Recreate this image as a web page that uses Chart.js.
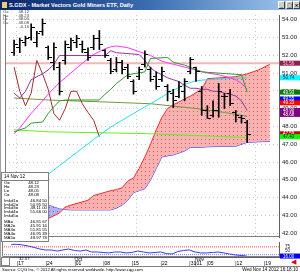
<!DOCTYPE html>
<html>
<head>
<meta charset="utf-8">
<title>S.GDX - Market Vectors Gold Miners ETF, Daily</title>
<script src="https://cdn.jsdelivr.net/npm/chart.js@4.4.1/dist/chart.umd.min.js"></script>
<style>
  html, body { margin: 0; padding: 0; }
  body { width: 300px; height: 274px; position: relative; overflow: hidden; background: #fff; font-family: "Liberation Sans", Arial, sans-serif; }
  .abs { position: absolute; }
  #titlebar { left: 0; top: 0; width: 300px; height: 10px; background: linear-gradient(to right, #0a246a 0%, #3b6fb0 50%, #a6caf0 100%); }
  #titlebar .txt { left: 9px; top: 0; line-height: 10px; font-size: 5.6px; font-weight: bold; color: #fff; white-space: nowrap; }
  #titlebar .ico { left: 2px; top: 2px; width: 5px; height: 6px; background: #e8d070; }
  .btn { top: 1px; width: 5px; height: 6px; background: #d4d0c8; border-top: 1px solid #fff; border-left: 1px solid #fff;
         border-right: 1px solid #404040; border-bottom: 1px solid #404040; font: bold 5px/6px "DejaVu Sans"; text-align: center; color: #000; }
  canvas { position: absolute; left: 0; }
  #price { top: 10px; }
  #osc { top: 241px; }
  #quote { left: 3px; top: 10px; font-size: 4.2px; line-height: 3.7px; color: #404040; }
  #quote div { display: flex; width: 26px; justify-content: space-between; }
  #info { left: 1px; top: 172px; width: 46px; height: 68px; background: #fff; border: 1px solid #808080; font-size: 4.3px; line-height: 3.9px; color: #000; }
  #info .hdr { height: 7px; line-height: 7px; border-bottom: 1px solid #808080; padding-left: 2px; font-size: 4.6px; }
  #info .r { display: flex; justify-content: space-between; padding: 0 1px 0 2px; }
  #info .s { padding-right: 9px; }
  #info .g { margin-top: 2px; }
  #src { left: 2px; top: 266px; font-size: 4.2px; line-height: 7px; color: #000; white-space: nowrap; }
  #stamp { right: 2px; top: 266px; font-size: 4.6px; line-height: 8px; color: #000; white-space: nowrap; }
</style>
</head>
<body>
<div id="titlebar" class="abs">
  <div class="abs ico"></div>
  <div class="abs txt">S.GDX - Market Vectors Gold Miners ETF, Daily</div>
  <div class="abs btn" style="left:278px">_</div>
  <div class="abs btn" style="left:286px">□</div>
  <div class="abs btn" style="left:293px">×</div>
</div>
<div class="abs" style="left:0;top:10px;width:1px;height:256px;background:#a0a0a0"></div>
<canvas id="price" width="300" height="232"></canvas>
<canvas id="osc" width="300" height="25"></canvas>
<div id="quote" class="abs">
  <div><span>O=</span><span>48.12</span></div>
  <div><span>H=</span><span>48.23</span></div>
  <div><span>L=</span><span>48.05</span></div>
  <div><span>C=</span><span>48.08</span></div>
  <div><span></span><span>-0.16</span></div>
</div>
<div id="info" class="abs">
  <div class="hdr">14 Nov 12</div>
  <div class="r s"><span>O=</span><span>48.12</span></div>
  <div class="r s"><span>H=</span><span>48.23</span></div>
  <div class="r s"><span>L=</span><span>48.05</span></div>
  <div class="r s"><span>C=</span><span>48.08</span></div>
  <div class="r g"><span>Imkd1=</span><span>46.84 50</span></div>
  <div class="r"><span>Imkd2=</span><span>50.95 50</span></div>
  <div class="r"><span>Imkd3=</span><span>48.11 00</span></div>
  <div class="r"><span>Imkd4=</span><span>51.66 00</span></div>
  <div class="r"><span>Imkd5=</span><span></span></div>
  <div class="r g"><span>MA=</span><span>46.81 67</span></div>
  <div class="r"><span>MA2=</span><span>45.91 16</span></div>
  <div class="r"><span>MA3=</span><span>51.81 55</span></div>
  <div class="r"><span>MA4=</span><span>46.95 39</span></div>
  <div class="r"><span>MA5=</span><span>49.97 78</span></div>
</div>
<div class="abs" style="left:1px;top:257px;width:7px;height:7px;border:1px solid #808080"></div>
<div class="abs" style="left:19px;top:256px;font-size:4.2px;line-height:6px">32.57</div>
<div class="abs" style="left:291px;top:258px;color:#e00000;font:7px/8px 'DejaVu Sans'">◀</div>
<div class="abs" style="left:0;top:266px;width:300px;height:1px;background:#808080"></div>
<div id="src" class="abs">Source: CQG Inc. © 2012 All rights reserved worldwide. http://www.cqg.com</div>
<div id="stamp" class="abs">Wed Nov 14 2012 16:18:10</div>

<script>
// trading-day index: 0 = Mon 17 Sep 2012, 40 = Wed 14 Nov 2012 (29-30 Oct closed)
const barIdx = [-1,0,1,2,3,4,5,6,7,8,9,10,11,12,13,14,15,16,17,18,19,20,21,22,23,24,25,26,27,28,29,30,31,32,33,34,35,36,37,38,39,40];
const barHigh = [52.86,52.97,53.08,53.78,53.35,54.05,52.53,52.70,51.61,52.81,52.97,53.13,52.81,52.43,53.13,53.40,52.32,51.83,51.88,51.72,51.50,50.63,51.34,52.26,51.34,51.07,51.34,50.36,50.09,50.53,50.69,51.88,51.34,50.25,49.17,49.44,50.42,49.87,50.09,48.90,48.63,48.35];
const barLow = [51.99,52.15,52.53,52.86,52.48,53.13,51.77,51.18,49.77,51.50,52.26,52.43,52.15,51.72,52.32,52.32,51.88,50.96,51.07,50.96,50.69,49.82,50.63,51.34,50.53,50.09,50.53,49.44,49.06,49.60,49.44,50.96,50.53,48.63,48.46,48.52,48.52,49.01,49.17,48.25,48.19,47.11];
const barOpen = [52.15,52.43,52.70,53.02,52.70,53.35,52.43,51.61,51.34,51.72,52.43,52.70,52.59,52.15,52.43,52.97,52.26,51.72,51.18,51.61,51.34,50.53,50.80,51.50,51.18,50.80,50.63,50.25,49.87,49.71,49.98,51.07,51.34,49.98,48.90,48.63,48.90,49.71,49.87,48.79,48.52,48.25];
const barClose = [52.59,52.81,52.97,53.57,53.24,53.78,51.88,52.43,49.98,52.59,52.81,52.97,52.32,51.88,52.97,52.59,51.99,51.07,51.61,51.18,50.80,49.98,51.18,52.05,50.63,50.25,51.07,49.98,49.44,50.25,50.53,51.77,51.07,48.90,48.46,48.90,49.98,49.71,49.28,48.63,48.46,47.54];

const laggingIdx = [-1,0,1,2,3,4,5,6,7,8,9,10,11,12,13,14];
const laggingSpan = [51.34,49.98,49.17,49.87,51.72,50.96,50.09,48.73,48.35,49.01,49.98,49.98,49.28,48.79,48.35,47.43];

const tenkanIdx = [-1,0,1,2,3,4,5,6,7,15,16,17,21,22,23,24,25,26,27,28,29,30,31,32,33,34,35,36,37,38,39,40];
const tenkan = [49.87,49.60,49.98,50.63,50.80,50.96,51.18,51.50,51.99,51.99,52.26,52.15,52.05,51.72,51.29,51.07,50.91,50.74,50.63,50.53,50.31,50.15,50.15,50.09,50.09,49.98,49.98,49.87,49.82,49.71,49.44,48.90];

const kijunIdx = [-1,1,2,4,5,6,7,8,14,15,16,17,19,22,23,26,27,29,32,39,40];
const kijun = [47.70,47.92,48.19,48.25,48.73,49.11,49.44,49.49,49.49,49.82,50.09,50.42,50.91,51.07,51.83,51.88,51.61,51.45,51.07,50.91,49.93];

const maPinkIdx = [-1,0,2,4,5,7,9,11,13,15,16,17,19,21,23,25,27,29,31,33,35,37,38,39,40];
const maPink = [47.59,47.92,48.73,49.44,49.82,50.47,51.01,51.56,52.05,52.37,52.48,52.53,52.43,52.21,51.99,51.67,51.50,51.34,51.18,51.01,50.91,50.74,50.63,50.42,50.09];

const maCyanIdx = [-1,2,5,7,9,11,13,16,18,20,22,23,25,27,29,31,33,36,40];
const maCyan = [44.01,44.61,45.31,45.80,46.29,46.78,47.27,47.97,48.35,48.73,49.11,49.28,49.66,50.04,50.36,50.58,50.63,50.69,50.74];

const maOliveIdx = [-1,5,14,23,31,36,40];
const maOlive = [49.60,49.49,49.39,49.28,49.01,48.79,48.57];

const maLimeIdx = [-1,5,14,23,31,40];
const maLime = [47.81,47.70,47.65,47.59,47.49,47.38];

const cloudIdx = [5,7,8,9,12,13,16,17,18,19,20,21,22,23,24,25,26,27,29,30,32,33,38,40,42,44];
const spanA = [42.82,43.14,43.47,43.58,43.85,44.12,44.39,44.45,44.55,44.93,45.10,45.64,46.29,47.00,47.81,48.52,49.01,49.22,49.55,49.71,50.09,50.69,50.80,50.96,51.18,51.50];
const spanB = [43.58,43.36,43.33,43.31,43.31,43.31,43.31,43.41,43.58,43.85,44.28,44.39,44.50,44.99,45.64,46.29,46.35,46.40,46.62,46.83,46.83,46.86,46.89,47.11,47.14,47.16];

const levelLine = 51.56;
const priceTicks = [42,43,44,45,46,47,48,49,50,51,52,53,54];
const tagValues = [51.56,50.74,49.93,49.55,49.33,48.90,48.68,47.59,47.43];

const oscIdx = barIdx;
const oscValues = [91,91,87,80,71,61,55,55,48,55,61,52,48,55,42,42,39,36,42,42,36,39,48,42,36,39,42,32,29,45,52,55,42,36,36,39,42,36,29,23,20,16];
const oscLevels = [75,25];
const oscTicks = [50,75];

const weekTickIdx = [0,5,10,15,20,25,30,31,33,38,43];
const dayLabels = ['17','24','01','08','15','22','31','01','05','12','19'];
const monthTickIdx = [10,31];
const monthNames = ['Oct','Nov'];

// axis ranges
const xMin = -2.6, xMax = 45.6;
const yMin = 41.785, yMax = 54.27;
const oscMin = 10, oscMax = 106;

const tagColors = [
  ['#8b2252','#ffc0cb'], ['#00ffff','#000080'], ['#008000','#ffffff'], ['#0000ff','#ffffff'], ['#ff0000','#ffffff'],
  ['#800080','#ffffff'], ['#800080','#ffffff'], ['#cc0000','#ffffff'], ['#00ff00','#000000']
];

function pts(xs, ys) {
  return xs.map((x, i) => ({ x: x, y: ys[i] }));
}

function tickImage(side) {
  const c = document.createElement('canvas');
  c.width = 7; c.height = 1;
  const g = c.getContext('2d');
  g.fillStyle = '#000';
  g.fillRect(side === 'left' ? 0 : 4, 0, 3, 1);
  return c;
}

function dotted(bg, dot) {
  const c = document.createElement('canvas');
  c.width = 4; c.height = 4;
  const g = c.getContext('2d');
  g.fillStyle = bg; g.fillRect(0, 0, 4, 4);
  g.fillStyle = dot; g.fillRect(1, 1, 1, 1);
  return g.createPattern(c, 'repeat');
}

function line(xs, ys, color, order, extra) {
  return Object.assign({
    type: 'line', data: pts(xs, ys), borderColor: color, borderWidth: 1,
    pointRadius: 0, fill: false, tension: 0, order: order
  }, extra || {});
}

const tagPlugin = {
  id: 'tags',
  afterDraw(chart, args, opts) {
    const ctx = chart.ctx, ys = chart.scales.y, a = chart.chartArea;
    ctx.save();
    ctx.font = '4.5px "Liberation Sans"';
    ctx.textBaseline = 'middle';
    (opts.items || []).forEach(t => {
      const py = ys.getPixelForValue(t.value);
      ctx.fillStyle = t.bg;
      ctx.fillRect(a.right + 1, py - 2.5, 20, 5);
      ctx.fillStyle = t.fg;
      ctx.fillText(t.value.toFixed(2), a.right + 4, py + 0.3);
    });
    ctx.restore();
  }
};

const framePlugin = {
  id: 'frame',
  afterDatasetsDraw(chart) {
    const ctx = chart.ctx, a = chart.chartArea;
    ctx.save();
    ctx.strokeStyle = '#808080';
    ctx.lineWidth = 1;
    ctx.beginPath();
    ctx.moveTo(a.left + 0.5, a.top);
    ctx.lineTo(a.left + 0.5, a.bottom - 0.5);
    ctx.lineTo(a.right, a.bottom - 0.5);
    ctx.stroke();
    ctx.restore();
  }
};

const pinkDots = dotted('#f9b2b2', '#e25a5a');
const blueDots = dotted('#b0b0f4', '#6a6ad8');

new Chart(document.getElementById('price'), {
  type: 'line',
  data: {
    datasets: [
      { type: 'bar', data: barIdx.map((x, i) => ({ x: x, y: [barLow[i], barHigh[i]] })),
        backgroundColor: '#000', borderWidth: 0, barThickness: 1, order: 0 },
      { type: 'line', data: pts(barIdx, barOpen), showLine: false, pointStyle: tickImage('left'), pointRadius: 3, order: 0 },
      { type: 'line', data: pts(barIdx, barClose), showLine: false, pointStyle: tickImage('right'), pointRadius: 3, order: 0 },
      line(kijunIdx, kijun, '#2e9a2e', 2),
      line(tenkanIdx, tenkan, '#993399', 2),
      line(maPinkIdx, maPink, '#ff33ff', 3),
      line(maCyanIdx, maCyan, '#22e0f0', 3),
      line(laggingIdx, laggingSpan, '#a03030', 3),
      line(maOliveIdx, maOlive, '#6f9a3a', 4),
      line(maLimeIdx, maLime, '#66ee22', 4),
      line([xMin, xMax], [levelLine, levelLine], '#f2b8b8', 5, { borderWidth: 2 }),
      line(cloudIdx, spanA, '#ff2a2a', 8, { fill: { target: '+1', above: pinkDots, below: blueDots } }),
      line(cloudIdx, spanB, '#3a3aff', 8)
    ]
  },
  options: {
    responsive: false, animation: false, events: [],
    layout: { padding: { left: 2, right: 0, top: 1, bottom: 1 } },
    plugins: {
      legend: { display: false }, tooltip: { enabled: false },
      tags: { items: tagValues.map((v, i) => ({ value: v, bg: tagColors[i][0], fg: tagColors[i][1] })) }
    },
    scales: {
      x: {
        type: 'linear', min: xMin, max: xMax, offset: false,
        afterBuildTicks: s => { s.ticks = monthTickIdx.map(v => ({ value: v })); },
        ticks: { display: false },
        grid: { color: '#c8c8c8', drawTicks: false },
        border: { display: false, dash: [1, 3] },
        afterFit: s => { s.height = 0; s.paddingLeft = 0; s.paddingRight = 0; }
      },
      y: {
        type: 'linear', position: 'right', min: yMin, max: yMax,
        afterBuildTicks: s => { s.ticks = priceTicks.map(v => ({ value: v })); },
        ticks: { color: '#202020', font: { size: 6, family: 'Liberation Sans' }, padding: 3, callback: v => v.toFixed(2) },
        grid: { color: '#c8c8c8', drawTicks: false },
        border: { display: true, color: '#606060', dash: [1, 3] },
        afterFit: s => { s.width = 21; s.paddingTop = 0; s.paddingBottom = 0; }
      }
    }
  },
  plugins: [framePlugin, tagPlugin]
});

new Chart(document.getElementById('osc'), {
  type: 'line',
  data: {
    datasets: [
      line(oscIdx, oscValues, '#3a3ae8', 0),
      line([xMin, xMax], [oscLevels[0], oscLevels[0]], '#ff5050', 1, { borderDash: [1, 1] }),
      line([xMin, xMax], [oscLevels[1], oscLevels[1]], '#8080ff', 1, { borderDash: [1, 1] })
    ]
  },
  options: {
    responsive: false, animation: false, events: [],
    layout: { padding: { left: 2, right: 0, top: 1, bottom: 0 } },
    plugins: {
      legend: { display: false }, tooltip: { enabled: false },
      tags: { items: [{ value: oscValues[oscValues.length - 1], bg: '#0000ff', fg: '#ffffff' }] }
    },
    scales: {
      x: {
        type: 'linear', min: xMin, max: xMax, offset: false,
        afterBuildTicks: s => { s.ticks = weekTickIdx.map(v => ({ value: v })); },
        ticks: {
          autoSkip: false, maxRotation: 0, align: 'start', padding: 0, color: '#000',
          font: { size: 5, family: 'Liberation Sans', lineHeight: 0.9 },
          callback: v => {
            const k = weekTickIdx.indexOf(v), m = monthTickIdx.indexOf(v);
            return [m >= 0 ? monthNames[m] : '', '|' + dayLabels[k]];
          }
        },
        grid: { display: false, drawTicks: false },
        border: { display: true, color: '#606060' },
        afterFit: s => { s.height = 9; s.paddingLeft = 0; s.paddingRight = 0; }
      },
      y: {
        type: 'linear', position: 'right', min: oscMin, max: oscMax,
        afterBuildTicks: s => { s.ticks = oscTicks.map(v => ({ value: v })); },
        ticks: { color: '#202020', font: { size: 4.5, family: 'Liberation Sans' }, padding: 6 },
        grid: { display: false, drawTicks: false },
        border: { display: true, color: '#606060' },
        afterFit: s => { s.width = 21; s.paddingTop = 0; s.paddingBottom = 0; }
      }
    }
  },
  plugins: [framePlugin, tagPlugin]
});
</script>
</body>
</html>
